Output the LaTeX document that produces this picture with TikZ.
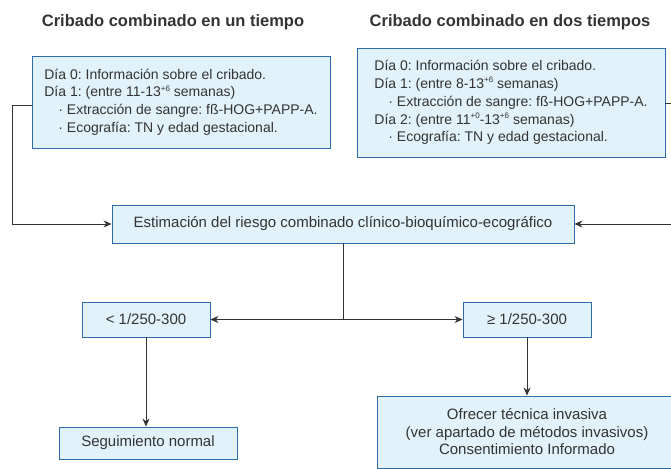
\documentclass[tikz,border=0pt]{standalone}
\usepackage{fontspec}
\setmainfont{Liberation Sans}
\usetikzlibrary{arrows.meta}
\definecolor{boxfill}{HTML}{E1F2FA}
\definecolor{boxline}{HTML}{2D6CA8}
\definecolor{ink}{HTML}{333333}
\newcommand\wk[1]{\raisebox{0.75ex}{\fontsize{8}{8}\selectfont #1}}

\begin{document}
\frenchspacing
\begin{tikzpicture}[x=1pt,y=-1pt,
  box/.style={draw=boxline,fill=boxfill,line width=0.9pt,text=ink,inner sep=0pt,
    font=\fontsize{15}{17.5}\selectfont},
  info/.style={box,align=left,font=\fontsize{14}{17.8}\selectfont},
  heading/.style={text=ink,font=\bfseries\fontsize{16.5}{18}\selectfont},
  link/.style={draw=ink,line width=0.9pt},
  arr/.style={link,-{Stealth[length=8pt,width=7pt]}}]
  \clip (0,0) rectangle (671,468);

  % titles
  \node[heading] (t1) at (173,22) {Cribado combinado en un tiempo};
  \node[heading] (t2) at (510,22) {Cribado combinado en dos tiempos};

  % screening boxes
  \node[info,minimum width=298pt,minimum height=92pt] (one) at (181,102) {%
    Día 0: Información sobre el cribado.\\
    Día 1: (entre 11-13\wk{+6} semanas)\\
    \hspace*{14pt}· Extracción de sangre: fß-HOG+PAPP-A.\\
    \hspace*{14pt}· Ecografía: TN y edad gestacional.};
  \node[info,minimum width=308pt,minimum height=109pt] (two) at (511,102.5) {%
    Día 0: Información sobre el cribado.\\
    Día 1: (entre 8-13\wk{+6} semanas)\\
    \hspace*{14pt}· Extracción de sangre: fß-HOG+PAPP-A.\\
    Día 2: (entre 11\wk{+0}-13\wk{+6} semanas)\\
    \hspace*{14pt}· Ecografía: TN y edad gestacional.};

  % risk and decisions
  \node[box,minimum width=462pt,minimum height=38pt] (risk) at (343,224)
    {Estimación del riesgo combinado clínico-bioquímico-ecográfico};
  \node[box,minimum width=128pt,minimum height=35pt] (low) at (146,319.5) {< 1/250-300};
  \node[box,minimum width=128pt,minimum height=35pt] (high) at (527,319.5) {≥ 1/250-300};
  \node[box,minimum width=178pt,minimum height=32pt] (follow) at (148,443) {Seguimiento normal};
  \node[box,minimum width=300pt,minimum height=72pt,align=center] (offer) at (527,432) {%
    Ofrecer técnica invasiva\\
    (ver apartado de métodos invasivos)\\
    Consentimiento Informado};

  % connectors
  \coordinate (lbend) at (12,105);
  \coordinate (rbend) at (672,103);
  \coordinate (split) at (343,319.5);
  \draw[arr] (one.west |- lbend) -- (lbend) |- (risk.west);
  \draw[arr] (two.east |- rbend) -- (rbend) |- (risk.east);
  \draw[link] (risk.south) -- (split);
  \draw[arr] (split) -- (low.east);
  \draw[arr] (split) -- (high.west);
  \draw[arr] (low.south) -- (low.south |- follow.north);
  \draw[arr] (high.south) -- (offer.north);
\end{tikzpicture}
\end{document}
